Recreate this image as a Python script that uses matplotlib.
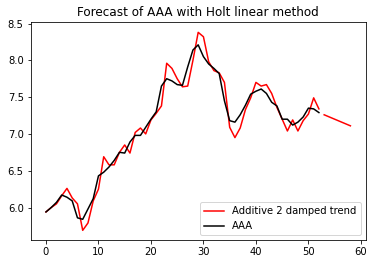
import numpy as np
import matplotlib.pyplot as plt

# observed series (AAA)
t_obs = np.arange(0, 53)
aaa = [5.94, 6.00, 6.07, 6.17, 6.14, 6.09, 5.86, 5.84, 5.98, 6.12,
       6.43, 6.48, 6.55, 6.64, 6.75, 6.74, 6.89, 6.98, 6.98, 7.09,
       7.20, 7.30, 7.65, 7.75, 7.72, 7.67, 7.66, 7.91, 8.14, 8.21,
       8.05, 7.95, 7.89, 7.82, 7.45, 7.18, 7.16, 7.26, 7.39, 7.54,
       7.58, 7.61, 7.55, 7.43, 7.38, 7.20, 7.20, 7.12, 7.16, 7.23,
       7.35, 7.34, 7.29]

# fitted values of the damped model
fitted = [5.94, 6.00, 6.05, 6.16, 6.26, 6.13, 6.05, 5.69, 5.79, 6.09,
          6.25, 6.69, 6.58, 6.58, 6.75, 6.85, 6.74, 7.02, 7.08, 7.00,
          7.19, 7.28, 7.38, 7.96, 7.89, 7.75, 7.64, 7.65, 8.00, 8.38,
          8.32, 7.98, 7.86, 7.83, 7.70, 7.09, 6.95, 7.08, 7.33, 7.49,
          7.70, 7.65, 7.67, 7.55, 7.36, 7.20, 7.04, 7.19, 7.04, 7.18,
          7.27, 7.49, 7.34]

# forecast
t_fc = np.arange(53, 59)
forecast = [7.26, 7.23, 7.20, 7.17, 7.14, 7.11]

fig = plt.figure(figsize=(375 / 72, 264 / 72), dpi=72)
ax = fig.add_axes([0.082, 0.09, 0.893, 0.825])

ax.plot(t_obs, fitted, color='red', label='Additive 2 damped trend')
ax.plot(t_fc, forecast, color='red')
ax.plot(t_obs, aaa, color='black', label='AAA')

ax.set_title('Forecast of AAA with Holt linear method', fontsize=12)
ax.tick_params(labelsize=10)
ax.legend(loc='lower right', fontsize=10)

fig.savefig('out.png', dpi=72)
